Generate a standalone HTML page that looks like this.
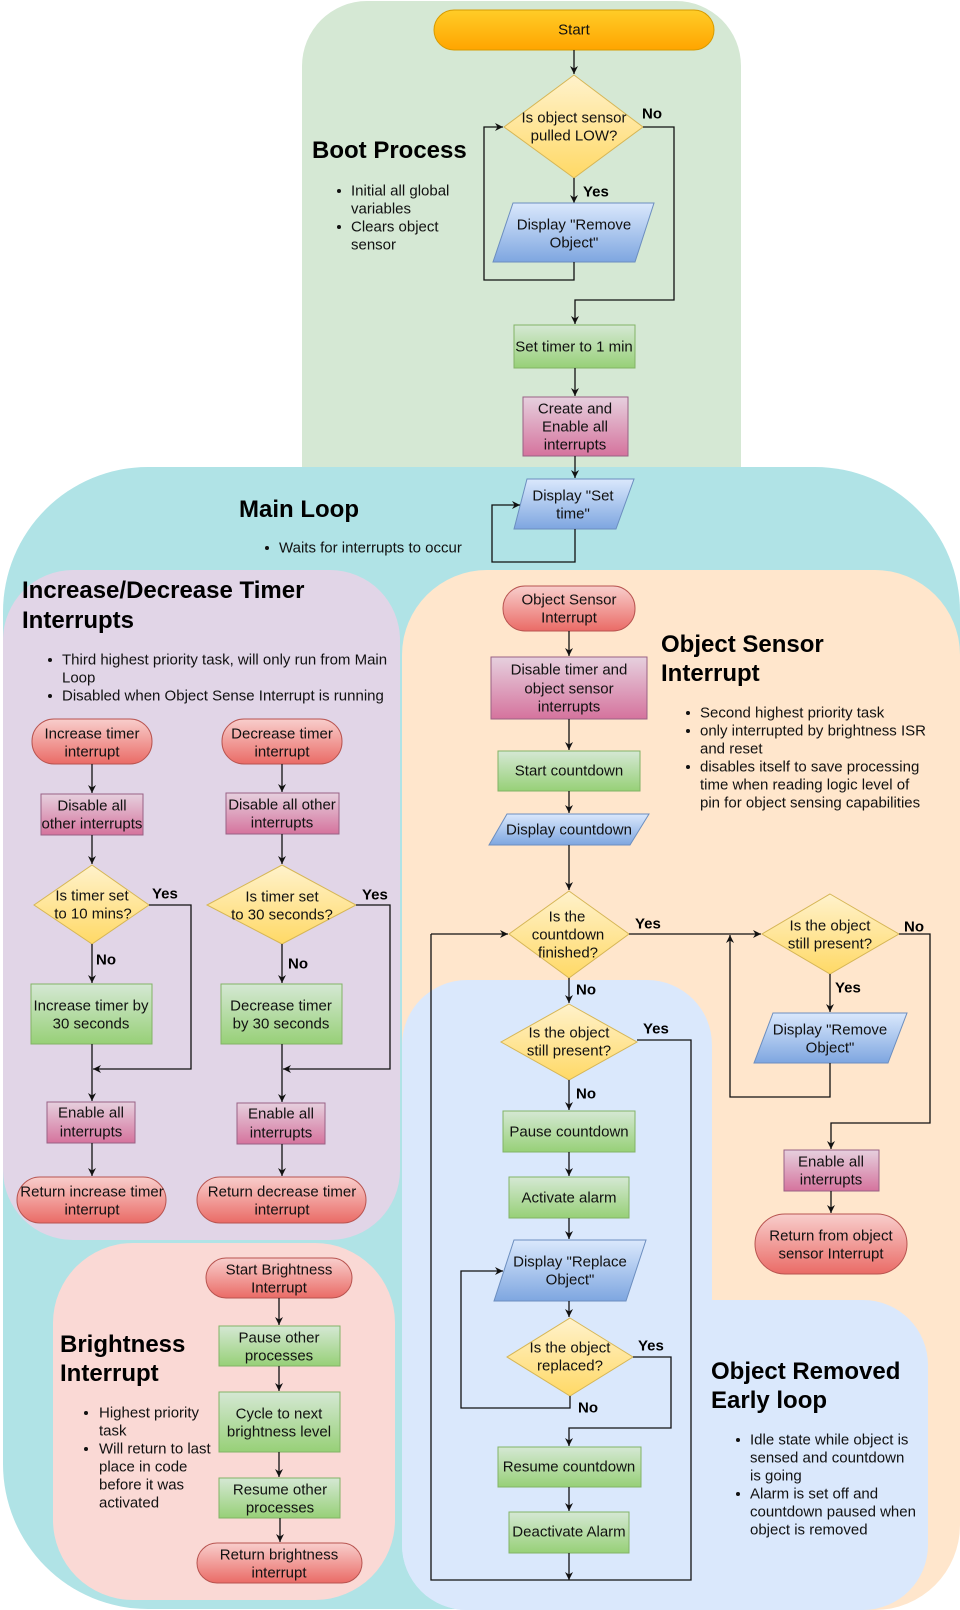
<!DOCTYPE html>
<html><head><meta charset="utf-8"><style>
html,body{margin:0;padding:0;background:#fff;}
svg{display:block;}
text{font-family:"Liberation Sans",Arial,sans-serif;}
.n{font-size:15px;fill:#111;text-anchor:middle;dominant-baseline:central;}
.b{font-size:15px;fill:#111;dominant-baseline:central;}
.l{font-size:15px;font-weight:bold;fill:#000;dominant-baseline:central;}
.t{font-size:24px;font-weight:bold;fill:#000;}
.e{fill:none;stroke:#111;stroke-width:1.3;}
.a{marker-end:url(#ar);}
</style></head><body>
<svg width="960" height="1610" viewBox="0 0 960 1610" xmlns="http://www.w3.org/2000/svg">
<defs>
<marker id="ar" markerUnits="userSpaceOnUse" markerWidth="10" markerHeight="10" refX="8" refY="4.5" orient="auto">
<path d="M0,0.5 L8,4.5 L0,8.5 L2.5,4.5 Z" fill="#111"/>
</marker>
<linearGradient id="gS" x1="0" y1="0" x2="0" y2="1"><stop offset="0" stop-color="#ffcd28"/><stop offset="1" stop-color="#ffa500"/></linearGradient>
<linearGradient id="gY" x1="0" y1="0" x2="0" y2="1"><stop offset="0" stop-color="#fff2cc"/><stop offset="1" stop-color="#ffd966"/></linearGradient>
<linearGradient id="gB" x1="0" y1="0" x2="0" y2="1"><stop offset="0" stop-color="#dae8fc"/><stop offset="1" stop-color="#7ea6e0"/></linearGradient>
<linearGradient id="gG" x1="0" y1="0" x2="0" y2="1"><stop offset="0" stop-color="#d5e8d4"/><stop offset="1" stop-color="#97d077"/></linearGradient>
<linearGradient id="gP" x1="0" y1="0" x2="0" y2="1"><stop offset="0" stop-color="#e6d0de"/><stop offset="1" stop-color="#d5739d"/></linearGradient>
<linearGradient id="gR" x1="0" y1="0" x2="0" y2="1"><stop offset="0" stop-color="#f8cecc"/><stop offset="1" stop-color="#ea6b66"/></linearGradient>
</defs>

<!-- regions -->
<rect x="302" y="1" width="439" height="600" rx="65" fill="#d5e8d4"/>
<rect x="3" y="467" width="957" height="1142" rx="145" fill="#b0e3e6"/>
<rect x="3" y="570" width="397" height="670" rx="70" fill="#e1d5e7"/>
<rect x="402" y="570" width="558" height="1040" rx="85" fill="#ffe6cc"/>
<rect x="402" y="980" width="310" height="630" rx="65" fill="#dae8fc"/>
<rect x="402" y="1300" width="526" height="310" rx="65" fill="#dae8fc"/>
<rect x="53" y="1243" width="342" height="357" rx="80" fill="#fad9d5"/>

<!-- ===== Boot ===== -->
<text class="t" x="312" y="158">Boot Process</text>
<circle cx="339" cy="191" r="2" fill="#111"/><circle cx="339" cy="227" r="2" fill="#111"/>
<text class="b" x="351" y="191">Initial all global</text>
<text class="b" x="351" y="209">variables</text>
<text class="b" x="351" y="227">Clears object</text>
<text class="b" x="351" y="245">sensor</text>

<rect x="434" y="10" width="280" height="40" rx="20" fill="url(#gS)" stroke="#d79b00"/>
<text class="n" x="574" y="30">Start</text>
<path class="e a" d="M574,50 L574,74"/>
<polygon points="574,75 643,127 574,178 504,127" fill="url(#gY)" stroke="#d6b656"/>
<text class="n" x="574" y="118">Is object sensor</text>
<text class="n" x="574" y="136">pulled LOW?</text>
<path class="e a" d="M574,178 L574,203"/>
<text class="l" x="583" y="192">Yes</text>
<polygon points="513,203 654,203 635,262 493,262" fill="url(#gB)" stroke="#6c8ebf"/>
<text class="n" x="574" y="225">Display "Remove</text>
<text class="n" x="574" y="243">Object"</text>
<path class="e a" d="M574,262 L574,280 L484,280 L484,127 L503,127"/>
<text class="l" x="642" y="114">No</text>
<path class="e a" d="M643,127 L674,127 L674,300 L575,300 L575,324"/>
<rect x="514" y="325" width="121" height="43" fill="url(#gG)" stroke="#82b366"/>
<text class="n" x="574" y="347">Set timer to 1 min</text>
<path class="e a" d="M575,368 L575,396"/>
<rect x="523" y="397" width="105" height="59" fill="url(#gP)" stroke="#996185"/>
<text class="n" x="575" y="409">Create and</text>
<text class="n" x="575" y="427">Enable all</text>
<text class="n" x="575" y="445">interrupts</text>
<path class="e a" d="M575,456 L575,478"/>

<!-- ===== Main loop ===== -->
<text class="t" x="239" y="517">Main Loop</text>
<circle cx="267" cy="548" r="2" fill="#111"/>
<text class="b" x="279" y="548">Waits for interrupts to occur</text>
<polygon points="527,479 634,479 616,529 514,529" fill="url(#gB)" stroke="#6c8ebf"/>
<text class="n" x="573" y="496">Display "Set</text>
<text class="n" x="573" y="514">time"</text>
<path class="e a" d="M575,529 L575,562 L492,562 L492,505 L520,505"/>

<!-- ===== Increase/Decrease ===== -->
<text class="t" x="22" y="598">Increase/Decrease Timer</text>
<text class="t" x="22" y="628">Interrupts</text>
<circle cx="50" cy="660" r="2" fill="#111"/><circle cx="50" cy="696" r="2" fill="#111"/>
<text class="b" x="62" y="660">Third highest priority task, will only run from Main</text>
<text class="b" x="62" y="678">Loop</text>
<text class="b" x="62" y="696">Disabled when Object Sense Interrupt is running</text>

<!-- left column -->
<rect x="32" y="719" width="120" height="45" rx="22" fill="url(#gR)" stroke="#b85450"/>
<text class="n" x="92" y="734">Increase timer</text>
<text class="n" x="92" y="752">interrupt</text>
<path class="e a" d="M92,764 L92,793"/>
<rect x="41" y="794" width="102" height="41" fill="url(#gP)" stroke="#996185"/>
<text class="n" x="92" y="806">Disable all</text>
<text class="n" x="92" y="824">other interrupts</text>
<path class="e a" d="M92,835 L92,864"/>
<polygon points="92,865 149,905 92,944 34,905" fill="url(#gY)" stroke="#d6b656"/>
<text class="n" x="92" y="896">Is timer set</text>
<text class="n" x="93" y="914">to 10 mins?</text>
<text class="l" x="152" y="894">Yes</text>
<path class="e a" d="M149,905 L191,905 L191,1069 L93,1069"/>
<text class="l" x="96" y="960">No</text>
<path class="e a" d="M92,944 L92,983"/>
<rect x="31" y="984" width="121" height="60" fill="url(#gG)" stroke="#82b366"/>
<text class="n" x="91" y="1006">Increase timer by</text>
<text class="n" x="91" y="1024">30 seconds</text>
<path class="e a" d="M92,1044 L92,1101"/>
<rect x="47" y="1102" width="88" height="41" fill="url(#gP)" stroke="#996185"/>
<text class="n" x="91" y="1113">Enable all</text>
<text class="n" x="91" y="1132">interrupts</text>
<path class="e a" d="M92,1143 L92,1176"/>
<rect x="17" y="1177" width="149" height="46" rx="23" fill="url(#gR)" stroke="#b85450"/>
<text class="n" x="92" y="1192">Return increase timer</text>
<text class="n" x="92" y="1210">interrupt</text>

<!-- right column -->
<rect x="222" y="719" width="120" height="45" rx="22" fill="url(#gR)" stroke="#b85450"/>
<text class="n" x="282" y="734">Decrease timer</text>
<text class="n" x="282" y="752">interrupt</text>
<path class="e a" d="M282,764 L282,792"/>
<rect x="226" y="793" width="113" height="41" fill="url(#gP)" stroke="#996185"/>
<text class="n" x="282" y="805">Disable all other</text>
<text class="n" x="282" y="823">interrupts</text>
<path class="e a" d="M282,834 L282,864"/>
<polygon points="282,865 356,905 282,944 207,905" fill="url(#gY)" stroke="#d6b656"/>
<text class="n" x="282" y="897">Is timer set</text>
<text class="n" x="282" y="915">to 30 seconds?</text>
<text class="l" x="362" y="895">Yes</text>
<path class="e a" d="M356,905 L390,905 L390,1069 L283,1069"/>
<text class="l" x="288" y="964">No</text>
<path class="e a" d="M282,944 L282,983"/>
<rect x="221" y="984" width="121" height="60" fill="url(#gG)" stroke="#82b366"/>
<text class="n" x="281" y="1006">Decrease timer</text>
<text class="n" x="281" y="1024">by 30 seconds</text>
<path class="e a" d="M282,1044 L282,1102"/>
<rect x="237" y="1103" width="88" height="41" fill="url(#gP)" stroke="#996185"/>
<text class="n" x="281" y="1114">Enable all</text>
<text class="n" x="281" y="1133">interrupts</text>
<path class="e a" d="M282,1144 L282,1176"/>
<rect x="197" y="1177" width="169" height="46" rx="23" fill="url(#gR)" stroke="#b85450"/>
<text class="n" x="282" y="1192">Return decrease timer</text>
<text class="n" x="282" y="1210">interrupt</text>

<!-- ===== Brightness ===== -->
<text class="t" x="60" y="1352">Brightness</text>
<text class="t" x="60" y="1381">Interrupt</text>
<circle cx="86" cy="1413" r="2" fill="#111"/><circle cx="86" cy="1449" r="2" fill="#111"/>
<text class="b" x="99" y="1413">Highest priority</text>
<text class="b" x="99" y="1431">task</text>
<text class="b" x="99" y="1449">Will return to last</text>
<text class="b" x="99" y="1467">place in code</text>
<text class="b" x="99" y="1485">before it was</text>
<text class="b" x="99" y="1503">activated</text>

<rect x="206" y="1258" width="146" height="40" rx="20" fill="url(#gR)" stroke="#b85450"/>
<text class="n" x="279" y="1270">Start Brightness</text>
<text class="n" x="279" y="1288">Interrupt</text>
<path class="e a" d="M279,1298 L279,1325"/>
<rect x="219" y="1326" width="121" height="40" fill="url(#gG)" stroke="#82b366"/>
<text class="n" x="279" y="1338">Pause other</text>
<text class="n" x="279" y="1356">processes</text>
<path class="e a" d="M279,1366 L279,1391"/>
<rect x="219" y="1392" width="121" height="60" fill="url(#gG)" stroke="#82b366"/>
<text class="n" x="279" y="1414">Cycle to next</text>
<text class="n" x="279" y="1432">brightness level</text>
<path class="e a" d="M279,1452 L279,1477"/>
<rect x="219" y="1478" width="121" height="40" fill="url(#gG)" stroke="#82b366"/>
<text class="n" x="280" y="1490">Resume other</text>
<text class="n" x="280" y="1508">processes</text>
<path class="e a" d="M280,1518 L280,1542"/>
<rect x="197" y="1543" width="165" height="40" rx="20" fill="url(#gR)" stroke="#b85450"/>
<text class="n" x="279" y="1555">Return brightness</text>
<text class="n" x="279" y="1573">interrupt</text>

<!-- ===== Object Sensor ===== -->
<text class="t" x="661" y="652">Object Sensor</text>
<text class="t" x="661" y="681">Interrupt</text>
<circle cx="688" cy="713" r="2" fill="#111"/><circle cx="688" cy="731" r="2" fill="#111"/><circle cx="688" cy="767" r="2" fill="#111"/>
<text class="b" x="700" y="713">Second highest priority task</text>
<text class="b" x="700" y="731">only interrupted by brightness ISR</text>
<text class="b" x="700" y="749">and reset</text>
<text class="b" x="700" y="767">disables itself to save processing</text>
<text class="b" x="700" y="785">time when reading logic level of</text>
<text class="b" x="700" y="803">pin for object sensing capabilities</text>

<rect x="503" y="586" width="132" height="45" rx="22" fill="url(#gR)" stroke="#b85450"/>
<text class="n" x="569" y="600">Object Sensor</text>
<text class="n" x="569" y="618">Interrupt</text>
<path class="e a" d="M569,631 L569,656"/>
<rect x="491" y="657" width="156" height="62" fill="url(#gP)" stroke="#996185"/>
<text class="n" x="569" y="670">Disable timer and</text>
<text class="n" x="569" y="689">object sensor</text>
<text class="n" x="569" y="707">interrupts</text>
<path class="e a" d="M569,719 L569,750"/>
<rect x="498" y="751" width="142" height="40" fill="url(#gG)" stroke="#82b366"/>
<text class="n" x="569" y="771">Start countdown</text>
<path class="e a" d="M569,791 L569,813"/>
<polygon points="507,814 649,814 630,845 489,845" fill="url(#gB)" stroke="#6c8ebf"/>
<text class="n" x="569" y="830">Display countdown</text>
<path class="e a" d="M569,845 L569,890"/>
<polygon points="569,891 629,934 569,978 509,934" fill="url(#gY)" stroke="#d6b656"/>
<text class="n" x="567" y="917">Is the</text>
<text class="n" x="568" y="935">countdown</text>
<text class="n" x="568" y="953">finished?</text>
<text class="l" x="635" y="924">Yes</text>
<path class="e a" d="M629,934 L761,934"/>
<polygon points="830,894 899,934 830,974 762,934" fill="url(#gY)" stroke="#d6b656"/>
<text class="n" x="830" y="926">Is the object</text>
<text class="n" x="830" y="944">still present?</text>
<text class="l" x="904" y="927">No</text>
<path class="e a" d="M899,934 L930,934 L930,1123 L831,1123 L831,1149"/>
<text class="l" x="835" y="988">Yes</text>
<path class="e a" d="M830,974 L830,1012"/>
<polygon points="773,1013 907,1013 888,1063 754,1063" fill="url(#gB)" stroke="#6c8ebf"/>
<text class="n" x="830" y="1030">Display "Remove</text>
<text class="n" x="830" y="1048">Object"</text>
<path class="e a" d="M830,1063 L830,1097 L730,1097 L730,935"/>
<rect x="784" y="1150" width="95" height="41" fill="url(#gP)" stroke="#996185"/>
<text class="n" x="831" y="1162">Enable all</text>
<text class="n" x="831" y="1180">interrupts</text>
<path class="e a" d="M831,1191 L831,1213"/>
<rect x="755" y="1214" width="152" height="60" rx="30" fill="url(#gR)" stroke="#b85450"/>
<text class="n" x="831" y="1236">Return from object</text>
<text class="n" x="831" y="1254">sensor Interrupt</text>

<!-- ===== Object removed early loop ===== -->
<text class="t" x="711" y="1379">Object Removed</text>
<text class="t" x="711" y="1408">Early loop</text>
<circle cx="738" cy="1440" r="2" fill="#111"/><circle cx="738" cy="1494" r="2" fill="#111"/>
<text class="b" x="750" y="1440">Idle state while object is</text>
<text class="b" x="750" y="1458">sensed and countdown</text>
<text class="b" x="750" y="1476">is going</text>
<text class="b" x="750" y="1494">Alarm is set off and</text>
<text class="b" x="750" y="1512">countdown paused when</text>
<text class="b" x="750" y="1530">object is removed</text>

<text class="l" x="576" y="990">No</text>
<path class="e a" d="M569,978 L569,1003"/>
<polygon points="569,1004 637,1042 569,1080 501,1042" fill="url(#gY)" stroke="#d6b656"/>
<text class="n" x="569" y="1033">Is the object</text>
<text class="n" x="569" y="1051">still present?</text>
<text class="l" x="643" y="1029">Yes</text>
<path class="e" d="M637,1040 L691,1040 L691,1580 L431,1580 L431,934"/>
<path class="e a" d="M431,934 L508,934"/>
<text class="l" x="576" y="1094">No</text>
<path class="e a" d="M569,1080 L569,1110"/>
<rect x="503" y="1111" width="132" height="41" fill="url(#gG)" stroke="#82b366"/>
<text class="n" x="569" y="1132">Pause countdown</text>
<path class="e a" d="M569,1152 L569,1176"/>
<rect x="509" y="1177" width="120" height="41" fill="url(#gG)" stroke="#82b366"/>
<text class="n" x="569" y="1198">Activate alarm</text>
<path class="e a" d="M569,1218 L569,1239"/>
<polygon points="514,1240 646,1240 626,1301 494,1301" fill="url(#gB)" stroke="#6c8ebf"/>
<text class="n" x="570" y="1262">Display "Replace</text>
<text class="n" x="570" y="1280">Object"</text>
<path class="e a" d="M569,1301 L569,1317"/>
<polygon points="570,1318 633,1357 570,1396 507,1357" fill="url(#gY)" stroke="#d6b656"/>
<text class="n" x="570" y="1348">Is the object</text>
<text class="n" x="570" y="1366">replaced?</text>
<text class="l" x="638" y="1346">Yes</text>
<path class="e a" d="M633,1357 L671,1357 L671,1428 L569,1428 L569,1446"/>
<text class="l" x="578" y="1408">No</text>
<path class="e a" d="M570,1396 L570,1408 L461,1408 L461,1271 L503,1271"/>
<rect x="498" y="1447" width="143" height="40" fill="url(#gG)" stroke="#82b366"/>
<text class="n" x="569" y="1467">Resume countdown</text>
<path class="e a" d="M569,1487 L569,1511"/>
<rect x="509" y="1512" width="120" height="41" fill="url(#gG)" stroke="#82b366"/>
<text class="n" x="569" y="1532">Deactivate Alarm</text>
<path class="e a" d="M569,1553 L569,1580"/>
</svg>
</body></html>
